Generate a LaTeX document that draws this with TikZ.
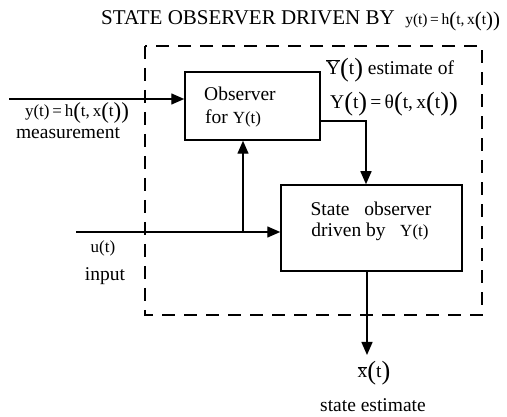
\documentclass[tikz,border=0pt]{standalone}
\usepackage{fontspec}
\usepackage{graphicx}
\setmainfont{Liberation Serif}
\usetikzlibrary{positioning,arrows.meta,calc}
\newcommand{\tallp}[1]{\raisebox{-.22ex}{\scalebox{1.35}{(}}#1\raisebox{-.22ex}{\scalebox{1.35}{)}}}
\newcommand{\yeqh}{y(t)\,=\,h\tallp{t,\,x\tallp{t}}}
\begin{document}
\begin{tikzpicture}[x=1pt,y=-1pt,
  blk/.style={draw, line width=1.5pt, inner sep=0pt},
  txt/.style={font=\fontsize{19.5}{23.5}\selectfont, inner sep=0pt},
  mth/.style={font=\fontsize{17}{20}\selectfont, inner sep=0pt},
  ttl/.style={font=\fontsize{21}{25}\selectfont, inner sep=0pt, anchor=west},
  sig/.style={line width=1.4pt, -{Triangle[length=13pt,width=11pt]}},
  frame/.style={line width=2.8pt, dash pattern=on 13pt off 9pt},
]
  \useasboundingbox (0,0) rectangle (507,417);

  % Title
  \node[ttl] (title) at (101,21) {STATE OBSERVER DRIVEN BY\ \ {\fontsize{15.5}{18}\selectfont\yeqh}};

  % Dashed frame
  \coordinate (fnw) at (145,46);
  \coordinate (fse) at (482,315);
  \draw[frame] (fnw) rectangle (fse);

  % Blocks
  \node[blk, minimum width=135pt, minimum height=68pt] (obs) at (252.5,106) {};
  \node[txt, anchor=west] (obs1) at (204,94) {Observer};
  \node[txt, anchor=west] (obs2) at (205,118) {for {\fontsize{17}{20}\selectfont Y(t)}};
  \node[blk, minimum width=181pt, minimum height=86pt] (st) at (371.5,228) {};
  \node[txt] (st1) at (371,209) {State\ \ \ observer};
  \node[txt] (st2) at (370,232) {driven by\ \ \ {\fontsize{17}{20}\selectfont Y(t)}};

  % Signal points
  \coordinate (min) at (9,99);
  \coordinate (turn) at (366,121);
  \coordinate (uin) at (76,232);
  \coordinate (br) at (243,232);
  \coordinate (xout) at (367,355);

  % Connectors
  \draw[sig] (min) -- (min -| obs.west);
  \draw[sig] (turn -| obs.east) -- (turn) -- (turn |- st.north);
  \draw[sig] (uin) -- (uin -| st.west);
  \draw[sig] (br) -- (br |- obs.south);
  \draw[sig] (xout |- st.south) -- (xout);

  % Labels
  \node[mth] (ylab) at (77,113) {\yeqh};
  \node[txt] (meas) at (68,133) {measurement};
  \node[mth] (ulab) at (103,248) {u(t)};
  \node[txt] (inp) at (105,276) {input};
  \node[txt] (ybar) at (390,70) {$\overline{\mbox{Y}}$\tallp{t} estimate of};
  \node[txt] (ytheta) at (394,104) {Y\tallp{t}\,=\,θ\tallp{t,\,x\tallp{t}}};
  \node[txt] (xbar) at (374,373) {$\overline{\mbox{x}}$\tallp{t}};
  \node[txt] (sest) at (373,405) {state estimate};
\end{tikzpicture}
\end{document}
